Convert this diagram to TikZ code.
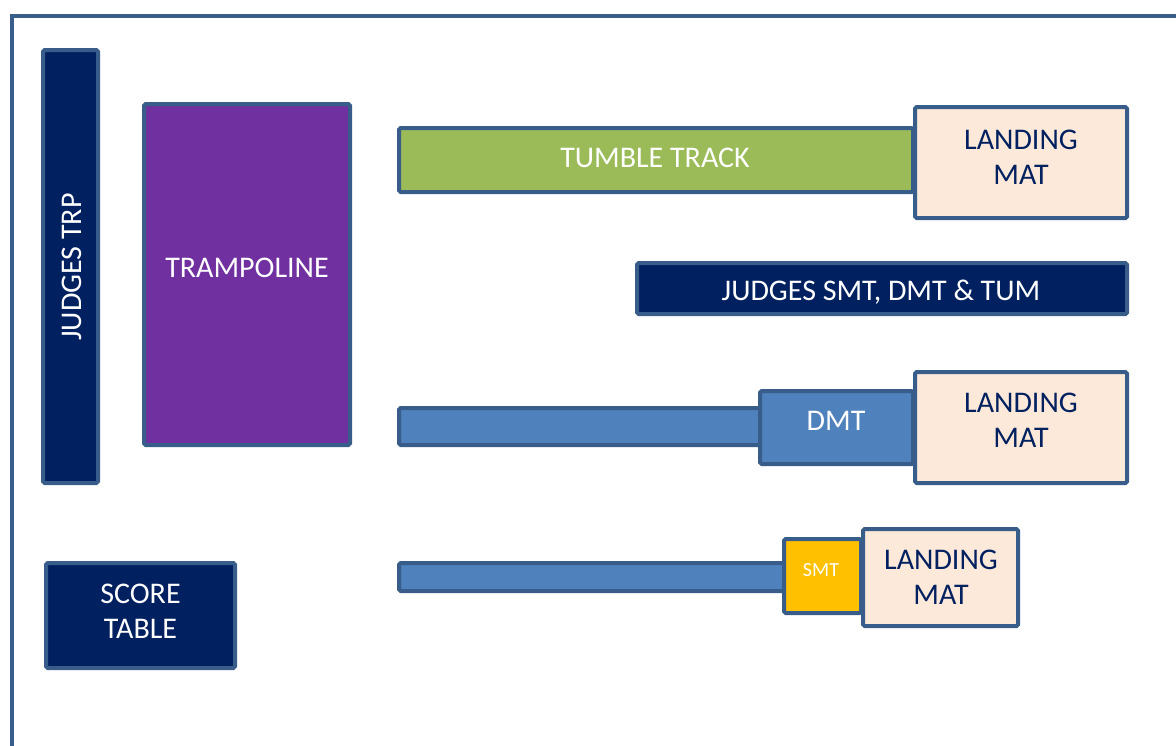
\documentclass[tikz,border=0pt]{standalone}
\usepackage{fontspec}
\setmainfont{Carlito}
\usepackage{tikz}

\definecolor{edge}{HTML}{385D8A}
\definecolor{navy}{HTML}{002060}
\definecolor{plum}{HTML}{7030A0}
\definecolor{grass}{HTML}{9BBB59}
\definecolor{steel}{HTML}{4F81BD}
\definecolor{gold}{HTML}{FFC000}
\definecolor{peach}{HTML}{FDE9D9}

\tikzset{
    piece/.style={draw=edge, line width=2pt, rounded corners=0.8pt},
    lbl/.style={text=white, font=\fontsize{15}{17.5}\selectfont, align=center},
    matlbl/.style={text=navy, font=\fontsize{15}{17.5}\selectfont, align=center}
}

\begin{document}
\begin{tikzpicture}[x=0.5pt, y=-0.5pt]
    \clip (0,0) rectangle (1176,745);
    \draw[edge, line width=2pt] (12,16) rectangle (1200,780);

    \draw[piece, fill=navy] (43,50) rectangle (98,483);
    \draw[piece, fill=plum] (144,104) rectangle (350,445);
    \draw[piece, fill=navy] (46,563) rectangle (235,668);

    \draw[piece, fill=grass] (399,128) rectangle (913,192);
    \draw[piece, fill=peach] (915,107) rectangle (1127,218);

    \draw[piece, fill=navy] (637,263) rectangle (1127,314);

    \draw[piece, fill=steel] (399,408) rectangle (760,445);
    \draw[piece, fill=steel] (760,391) rectangle (913,464);
    \draw[piece, fill=peach] (915,372) rectangle (1127,483);

    \draw[piece, fill=steel] (399,563) rectangle (784,591);
    \draw[piece, fill=gold] (784,539) rectangle (861,613);
    \draw[piece, fill=peach] (863,529) rectangle (1018,626);

    \node[lbl, rotate=90] (trp) at (72,267) {JUDGES TRP};
    \node[lbl] (tramp) at (247,268) {TRAMPOLINE};
    \node[lbl] (score) at (140.5,611) {SCORE\\TABLE};
    \node[lbl] (tumble) at (655,158) {TUMBLE TRACK};
    \node[matlbl] (mat1) at (1021,157) {LANDING\\MAT};
    \node[lbl] (judges) at (881,292) {JUDGES SMT, DMT \& TUM};
    \node[lbl] (dmt) at (836,421) {DMT};
    \node[matlbl] (mat2) at (1021,420) {LANDING\\MAT};
    \node[lbl, font=\fontsize{10}{12}\selectfont] (smt) at (821,570) {SMT};
    \node[matlbl] (mat3) at (941,577) {LANDING\\MAT};
\end{tikzpicture}
\end{document}
